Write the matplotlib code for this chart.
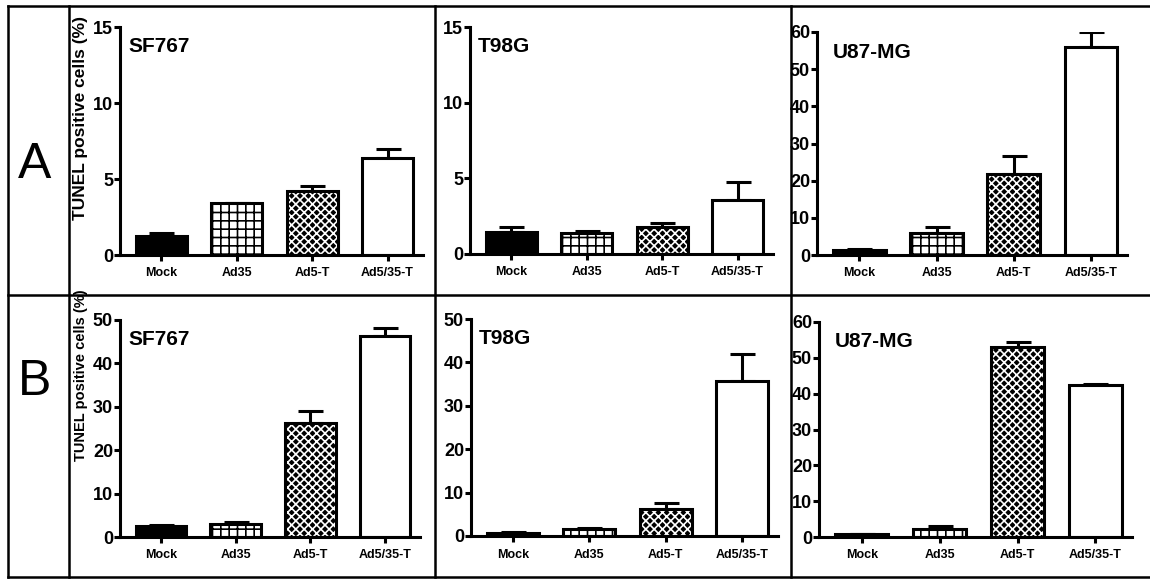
import numpy as np
import matplotlib.pyplot as plt
from matplotlib.lines import Line2D

plt.rcParams['font.family'] = ['Liberation Sans', 'DejaVu Sans']
plt.rcParams['hatch.linewidth'] = 1.2

# data
groups = ["Mock", "Ad35", "Ad5-T", "Ad5/35-T"]
cell_lines = ["SF767", "T98G", "U87-MG"]
row_names = ["A", "B"]

a_sf767 = [1.25, 3.4, 4.2, 6.35]
a_sf767_err = [0.2, 0.05, 0.35, 0.6]
a_t98g = [1.45, 1.4, 1.8, 3.6]
a_t98g_err = [0.35, 0.15, 0.27, 1.15]
a_u87 = [1.4, 5.8, 21.8, 56.0]
a_u87_err = [0.3, 1.8, 4.8, 4.0]

b_sf767 = [2.5, 3.0, 26.3, 46.2]
b_sf767_err = [0.15, 0.5, 2.7, 2.0]
b_t98g = [0.75, 1.5, 6.2, 35.8]
b_t98g_err = [0.25, 0.3, 1.5, 6.1]
b_u87 = [0.75, 2.3, 53.1, 42.4]
b_u87_err = [0.2, 0.8, 1.4, 0.4]

ymax_a = [15, 15, 60]
ystep_a = [5, 5, 10]
ymax_b = [50, 50, 60]
ystep_b = [10, 10, 10]

means = [[a_sf767, a_t98g, a_u87], [b_sf767, b_t98g, b_u87]]
errs = [[a_sf767_err, a_t98g_err, a_u87_err], [b_sf767_err, b_t98g_err, b_u87_err]]
ymaxs = [ymax_a, ymax_b]
ysteps = [ystep_a, ystep_b]

W, H = 1150, 579
fig = plt.figure(figsize=(W / 100, H / 100), dpi=100)

# axes boxes in pixels: left, right, top, bottom
boxes = [[(120, 423, 27, 255), (470, 773, 27, 254), (817, 1127, 32, 255)],
         [(120, 420, 320, 537), (471, 778, 319, 536), (819, 1132, 322, 537)]]
name_dx = [8, 8, 16]

lw = 2.2
x = np.arange(len(groups))
for r in range(2):
    for c in range(3):
        l, rt, t, b = boxes[r][c]
        ax = fig.add_axes([l / W, 1 - b / H, (rt - l) / W, (b - t) / H])
        m = means[r][c]
        e = errs[r][c]
        ax.errorbar(x, m, yerr=[np.zeros(4), e], fmt='none', ecolor='black',
                    elinewidth=lw, capsize=9, capthick=lw, zorder=1)
        w = 0.68
        # Mock: solid black
        ax.bar(x[0], m[0], w, color='black', edgecolor='black', linewidth=lw, zorder=2)
        # Ad35: grid
        ax.bar(x[1], m[1], w, color='white', edgecolor='black', hatch='++', linewidth=lw, zorder=2)
        # Ad5-T: black with fine white cross pattern
        ax.bar(x[2], m[2], w, color='black', edgecolor='white', hatch='xxxx', linewidth=0, zorder=2)
        ax.bar(x[2], m[2], w, fill=False, edgecolor='black', linewidth=lw, zorder=3)
        # Ad5/35-T: empty
        ax.bar(x[3], m[3], w, color='white', edgecolor='black', linewidth=lw, zorder=2)

        ax.set_xlim(-0.55, 3.47)
        ax.set_ylim(0, ymaxs[r][c])
        ax.set_yticks(np.arange(0, ymaxs[r][c] + 1, ysteps[r][c]))
        ax.set_xticks(x)
        ax.set_xticklabels(groups, fontsize=9, fontweight='bold')
        for lab in ax.get_yticklabels():
            lab.set_fontweight('bold')
            lab.set_fontsize(13)
        ax.spines['top'].set_visible(False)
        ax.spines['right'].set_visible(False)
        ax.spines['left'].set_linewidth(lw)
        ax.spines['bottom'].set_linewidth(lw)
        ax.tick_params(axis='y', direction='out', length=4, width=lw, pad=1)
        ax.tick_params(axis='x', direction='out', length=4, width=lw, pad=5)
        ax.set_facecolor('none')
        ax.annotate(cell_lines[c], xy=(0, 1), xycoords='axes fraction',
                    xytext=(name_dx[c], -20), textcoords='offset pixels',
                    ha='left', va='center', fontsize=15, fontweight='bold')
        if c == 0:
            ax.set_ylabel("TUNEL positive cells (%)", fontweight='bold',
                          fontsize=12.5 if r == 0 else 10.5)
            ax.yaxis.label.set_va('center')
            ax.yaxis.set_label_coords((81 - l) / (rt - l), 0.60 if r == 0 else 0.745)

# row letters
fig.text(35 / W, 1 - 165 / H, row_names[0], fontsize=36, ha='center', va='center')
fig.text(35 / W, 1 - 382 / H, row_names[1], fontsize=36, ha='center', va='center')

# table frame
def px_line(x0, y0, x1, y1):
    fig.add_artist(Line2D([x0 / W, x1 / W], [1 - y0 / H, 1 - y1 / H],
                          color='black', linewidth=1.8, transform=fig.transFigure))

px_line(8, 6, W, 6)
px_line(8, 295, W, 295)
px_line(8, 577, W, 577)
for xv in [8, 69, 435, 791]:
    px_line(xv, 6, xv, 577)

fig.savefig("out.png", dpi=100)
